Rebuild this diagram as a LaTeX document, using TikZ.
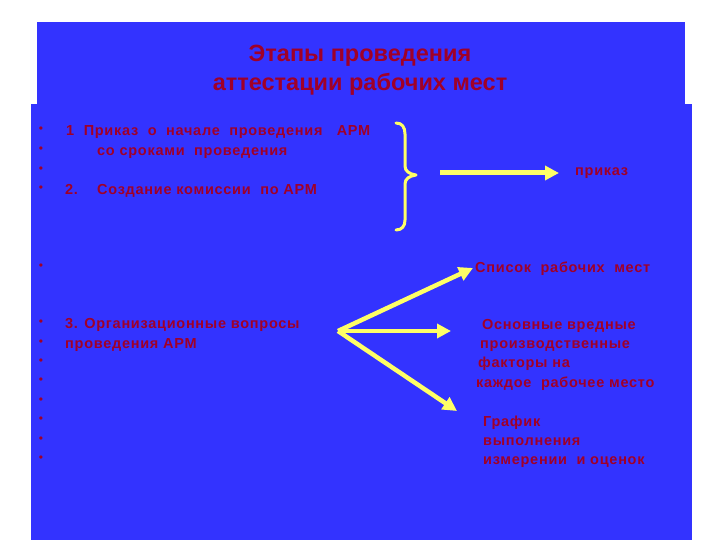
\documentclass[tikz,border=0pt]{standalone}
\usepackage{fontspec}
\setmainfont{Liberation Sans}
\newfontfamily\bodyfont[LetterSpace=5]{Liberation Sans}
\usetikzlibrary{arrows.meta}
\definecolor{slideblue}{RGB}{51,51,255}
\definecolor{txtred}{RGB}{160,0,40}
\definecolor{ylw}{RGB}{255,255,102}
\begin{document}
\begin{tikzpicture}[x=1pt,y=-1pt,
  txt/.style={text=txtred,font=\bodyfont\bfseries\fontsize{14.5}{16}\selectfont,anchor=base west,inner sep=0pt},
  ttl/.style={text=txtred,font=\bfseries\fontsize{23.5}{26}\selectfont,anchor=base,inner sep=0pt},
  bul/.style={text=txtred,font=\fontsize{12}{12}\selectfont,anchor=center,inner sep=0pt},
  yarrow/.style={draw=ylw,line width=4.5pt,-{Triangle[length=14pt,width=14pt]}},
  ybrace/.style={draw=ylw,line width=3pt,line cap=round,line join=round}]
\useasboundingbox (0,0) rectangle (720,540);
\fill[white] (0,0) rectangle (720,540);
\fill[slideblue] (37,22) rectangle (685,105);
\fill[slideblue] (31,104) rectangle (692,540);
% title
\node[ttl] (t1) at (360,62) {Этапы проведения};
\node[ttl] (t2) at (360,91) {аттестации рабочих мест};
% bullets
\foreach \yy [count=\i] in {130,150,170,189,267,323,343,362,381,401,420,440,459}
  \node[bul] (b\i) at (41,\yy) {•};
% left texts
\node[txt] (l1) at (66,136) {1\ \ Приказ\ \ о\ \ начале\ \ проведения\ \ \ АРМ};
\node[txt] (l2) at (97,156) {со\ сроками\ \ проведения};
\node[txt] (l3a) at (65,195) {2.};
\node[txt] (l3b) at (97,195) {Создание\ комиссии\ \ по\ АРМ};
\node[txt] (l4) at (65,328) {3. Организационные вопросы};
\node[txt] (l5) at (65,348) {проведения АРМ};
% right texts
\node[txt] (r1) at (575,176) {приказ};
\node[txt] (r2) at (475,272) {Список\ \ рабочих\ \ мест};
\node[txt] (r3) at (482,329) {Основные вредные};
\node[txt] (r4) at (480,348) {производственные};
\node[txt] (r5) at (478,367) {факторы на};
\node[txt] (r6) at (476,387) {каждое\ \ рабочее\ место};
\node[txt] (r7) at (483,426) {График};
\node[txt] (r8) at (483,445) {выполнения};
\node[txt] (r9) at (483,464) {измерении\ \ и\ оценок};
% brace
\coordinate (btip) at (416,175);
\draw[ybrace] (396,123) .. controls (402,123) and (405,127) .. (405,134)
  -- (405,166) .. controls (405,171) and (409,174) .. (btip)
  .. controls (409,176) and (405,179) .. (405,184)
  -- (405,220) .. controls (405,226) and (402,230) .. (396,230);
% arrows
\coordinate (a0) at (440,173);
\coordinate (a1) at (559,173);
\draw[yarrow,line width=5pt] (a0) -- (a1);
\coordinate (f0) at (338,331);
\coordinate (f1) at (473,268);
\coordinate (f2) at (451,331);
\coordinate (f3) at (457,411);
\draw[yarrow] (f0) -- (f1);
\draw[yarrow] (f0) -- (f2);
\draw[yarrow] (f0) -- (f3);
\end{tikzpicture}
\end{document}
